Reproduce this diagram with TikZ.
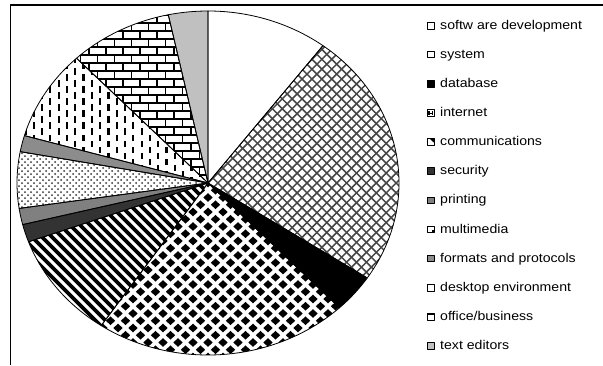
\documentclass[tikz,border=0pt]{standalone}
\usepackage{fontspec}
\setmainfont{Liberation Sans}
\usepackage{graphicx}
\newcommand\pieslice[2]{(0,0) -- (#1:191pt and 172pt) arc[start angle=#1, end angle=#2, x radius=191pt, y radius=172pt] -- cycle}
\definecolor{hatchgray}{RGB}{70,70,70}
\definecolor{secgray}{RGB}{51,51,51}
\definecolor{prtgray}{RGB}{128,128,128}
\definecolor{fmtgray}{RGB}{140,140,140}
\definecolor{txtgray}{RGB}{192,192,192}
\begin{document}
\begin{tikzpicture}[x=1pt,y=1pt,line join=round,
  slice/.style={draw=black,line width=0.8pt},
  hatch/.style={draw=hatchgray,line width=1.5pt},
  mortar/.style={draw=black,line width=1.8pt},
  lab/.style={anchor=base west,inner sep=0pt,font=\fontsize{12.7}{14}\selectfont},
  mk/.style={draw=black,line width=0.7pt,minimum width=7pt,minimum height=6.7pt,inner sep=0pt,anchor=south west}]
\useasboundingbox (0,0) rectangle (603,365);
\fill[white] (0,0) rectangle (603,365);
% frame
\coordinate (fb) at (10.5,0);
\coordinate (fc) at (10.5,360);
\coordinate (fr) at (603,360);
\draw[line width=1.4pt] (fb) -- (fc) -- (fr);
% pie
\begin{scope}[shift={(208,182)}]
  % software development
  \fill[white] \pieslice{90}{53};
  % system: crosshatch
  \begin{scope}
    \clip \pieslice{53}{-33.5};
    \fill[white] \pieslice{53}{-33.5};
    \foreach \c in {-20,...,40} {
      \draw[hatch] (\c*9.9-250,-250) -- ++(500,500);
      \draw[hatch] (\c*9.9+250,-250) -- ++(-500,500);
    }
  \end{scope}
  % database
  \fill[black] \pieslice{-33.5}{-46.5};
  % internet: diamonds
  \begin{scope}
    \clip \pieslice{-46.5}{-124};
    \fill[white] \pieslice{-46.5}{-124};
    \foreach \i in {-9,...,10} {
      \foreach \j in {-13,...,1} {
        \fill[black] (\i*15-4.6,\j*14.5) -- ++(4.6,4.4) -- ++(4.6,-4.4) -- ++(-4.6,-4.4) -- cycle;
        \fill[black] (\i*15+2.9,\j*14.5+7.25) -- ++(4.6,4.4) -- ++(4.6,-4.4) -- ++(-4.6,-4.4) -- cycle;
      }
    }
  \end{scope}
  % communications: stripes
  \begin{scope}
    \clip \pieslice{-124}{-160};
    \fill[white] \pieslice{-124}{-160};
    \foreach \c in {-40,...,5} {
      \draw[black,line width=3.8pt] (\c*10-250,250) -- ++(500,-500);
    }
  \end{scope}
  % security
  \fill[secgray] \pieslice{-160}{-166};
  % printing
  \fill[prtgray] \pieslice{-166}{-171.5};
  % multimedia: dots
  \begin{scope}
    \clip \pieslice{-171.5}{-190.5};
    \fill[white] \pieslice{-171.5}{-190.5};
    \foreach \i in {-33,...,0} {
      \foreach \j in {-6,...,7} {
        \fill[black!80] (\i*6,\j*6) circle (1.0);
        \fill[black!80] (\i*6+3,\j*6+3) circle (1.0);
      }
    }
  \end{scope}
  % formats and protocols
  \fill[fmtgray] \pieslice{-190.5}{-196};
  % desktop environment: vertical dashes
  \begin{scope}
    \clip \pieslice{-196}{-226.5};
    \fill[white] \pieslice{-196}{-226.5};
    \foreach \i in {-12,...,0} {
      \foreach \j in {-1,...,11} {
        \fill[black] (\i*16.6-1.1,\j*12) rectangle ++(2.2,6.5);
        \fill[black] (\i*16.6+7.2,\j*12+6) rectangle ++(2.2,6.5);
      }
    }
  \end{scope}
  % office/business: bricks
  \begin{scope}
    \clip \pieslice{-226.5}{-258};
    \fill[white] \pieslice{-226.5}{-258};
    \foreach \j in {0,...,22} {
      \draw[mortar] (-200,\j*8) -- (10,\j*8);
      \foreach \i in {-13,...,1} {
        \draw[mortar] ({\i*17+mod(\j,2)*8.5},{\j*8}) -- ++(0,8);
      }
    }
  \end{scope}
  % text editors
  \fill[txtgray] \pieslice{-258}{-270};
  % outlines
  \foreach \a/\b in {90/53,53/-33.5,-33.5/-46.5,-46.5/-124,-124/-160,-160/-166,-166/-171.5,-171.5/-190.5,-190.5/-196,-196/-226.5,-226.5/-258,-258/-270} {
    \draw[slice] \pieslice{\a}{\b};
  }
\end{scope}
% legend
\node[mk,fill=white] (m1) at (427,335.7) {};
\node[lab] (l1) at (440,335.7) {\scalebox{1.11}[1]{softw are development}};
\node[mk,fill=white,line width=0.9pt] (m2) at (427,306.6) {};
\node[lab] (l2) at (440,306.6) {\scalebox{1.11}[1]{system}};
\node[mk,fill=black] (m3) at (427,277.5) {};
\node[lab] (l3) at (440,277.5) {\scalebox{1.11}[1]{database}};
\node[mk,fill=white] (m4) at (427,248.4) {};
\fill[black] (m4.south west) ++(1.4,1.2) rectangle ++(1.3,4.3);
\fill[black] (m4.south east) ++(-2.7,1.2) rectangle ++(1.3,4.3);
\fill[black] (m4.south west) ++(1.4,2.8) rectangle ++(4.2,1.2);
\node[lab] (l4) at (440,248.4) {\scalebox{1.11}[1]{internet}};
\node[mk,fill=white] (m5) at (427,219.3) {};
\fill[black] (m5.north east) -- ++(-5.5,0) -- ++(5.5,-5) -- cycle;
\node[lab] (l5) at (440,219.3) {\scalebox{1.11}[1]{communications}};
\node[mk,fill=secgray] (m6) at (427,190.2) {};
\node[lab] (l6) at (440,190.2) {\scalebox{1.11}[1]{security}};
\node[mk,fill=prtgray] (m7) at (427,161.1) {};
\node[lab] (l7) at (440,161.1) {\scalebox{1.11}[1]{printing}};
\node[mk,fill=white] (m8) at (427,132.0) {};
\fill[black] (m8.south east) ++(-3.2,1) rectangle ++(2.2,2.2);
\node[lab] (l8) at (440,132.0) {\scalebox{1.11}[1]{multimedia}};
\node[mk,fill=fmtgray] (m9) at (427,102.9) {};
\node[lab] (l9) at (440,102.9) {\scalebox{1.11}[1]{formats and protocols}};
\node[mk,fill=white] (m10) at (427,73.8) {};
\node[lab] (l10) at (440,73.8) {\scalebox{1.11}[1]{desktop environment}};
\node[mk,fill=white] (m11) at (427,44.7) {};
\fill[black] (m11.north west) rectangle ++(7,-2.4);
\node[lab] (l11) at (440,44.7) {\scalebox{1.11}[1]{office/business}};
\node[mk,fill=txtgray] (m12) at (427,15.6) {};
\node[lab] (l12) at (440,15.6) {\scalebox{1.11}[1]{text editors}};
\end{tikzpicture}
\end{document}
